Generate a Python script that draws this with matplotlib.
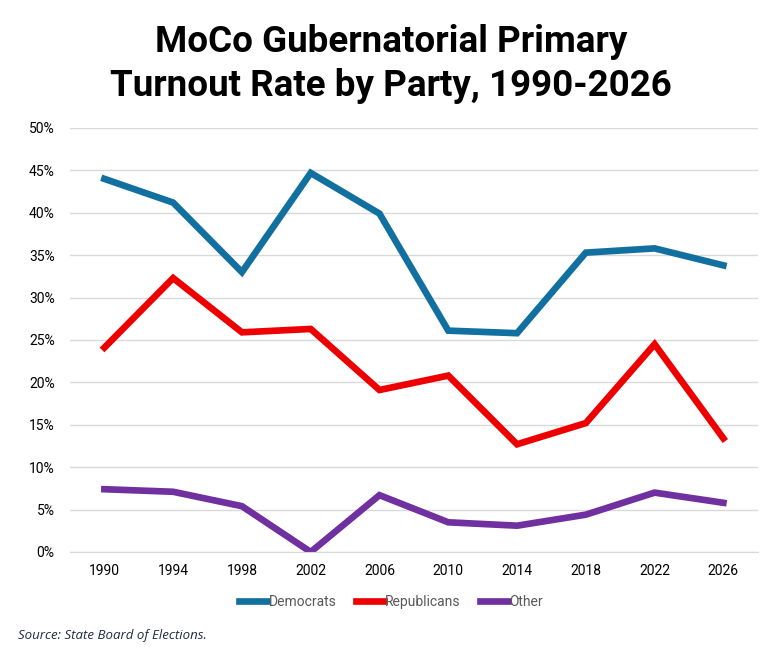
import matplotlib
matplotlib.use("Agg")
import matplotlib.pyplot as plt
from matplotlib.ticker import PercentFormatter

years = ["1990", "1994", "1998", "2002", "2006", "2010", "2014", "2018", "2022", "2026"]
democrats = [44.0, 41.2, 33.0, 44.7, 39.9, 26.1, 25.8, 35.3, 35.8, 33.8]
republicans = [24.1, 32.3, 25.9, 26.3, 19.1, 20.8, 12.7, 15.2, 24.5, 13.4]
other = [7.4, 7.1, 5.4, 0.0, 6.7, 3.5, 3.1, 4.4, 7.0, 5.8]
yticks = [0, 5, 10, 15, 20, 25, 30, 35, 40, 45, 50]

fam = ["Roboto", "DejaVu Sans"]
plt.rcParams['font.family'] = fam

fig = plt.figure(figsize=(7.82, 6.59), dpi=100)
ax = fig.add_axes([0.0895, 0.1624, 0.8795, 0.6434])

x = list(range(len(years)))
ax.plot(x, democrats, color="#1170A0", lw=4.8, label="Democrats", solid_joinstyle="miter")
ax.plot(x, republicans, color="#EE0000", lw=4.8, label="Republicans", solid_joinstyle="miter")
ax.plot(x, other, color="#7030A0", lw=4.8, label="Other", solid_joinstyle="miter")

ax.set_xlim(-0.5, len(years) - 0.5)
ax.set_ylim(0, 50)
ax.set_yticks(yticks)
ax.yaxis.set_major_formatter(PercentFormatter(decimals=0))
ax.set_xticks(x)
ax.set_xticklabels(years)
ax.grid(axis="y", color="#D9D9D9", lw=1)
ax.set_axisbelow(True)
for s in ["top", "right", "left"]:
    ax.spines[s].set_visible(False)
ax.spines["bottom"].set_color("#D9D9D9")
ax.tick_params(axis="both", length=0, labelsize=10, colors="#000000")
ax.tick_params(axis="x", pad=9)
ax.tick_params(axis="y", pad=11)

fig.text(0.5, 0.936, "MoCo Gubernatorial Primary", ha="center", va="center",
         fontsize=26.5, fontweight="bold")
fig.text(0.5, 0.870, "Turnout Rate by Party, 1990-2026", ha="center", va="center",
         fontsize=26.5, fontweight="bold")

leg = fig.legend(loc="center", bbox_to_anchor=(0.5, 0.087), ncol=3, frameon=False,
                 fontsize=10, handlelength=2.0, handletextpad=0.1, columnspacing=1.4)
for t in leg.get_texts():
    t.set_color("#595959")

fig.text(0.023, 0.036, "Source: State Board of Elections.", fontsize=9.5,
         style="italic", color="#1F2A44", ha="left", va="center",
         family=["Open Sans", "DejaVu Sans"])

fig.savefig("out.png", dpi=100)
